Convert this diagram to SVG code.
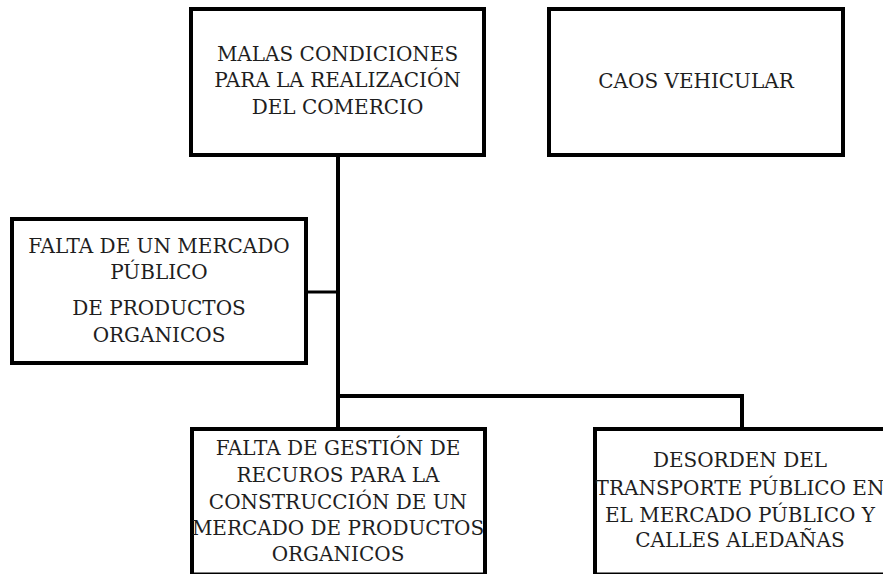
<svg xmlns="http://www.w3.org/2000/svg" width="883" height="574" viewBox="0 0 883 574">
<style>
.box{fill:#fff;stroke:#000;stroke-width:4}
.lbl{font-family:"DejaVu Serif","Liberation Serif",serif;font-size:20px;fill:#1e1e1e;text-anchor:middle}
.conn{fill:none;stroke:#000;stroke-width:4}
</style>
<rect width="883" height="574" fill="#fff"/>
<g id="connectors">
<polyline class="conn" points="338,155 338,427"/>
<polyline class="conn" points="306,292 338,292" style="stroke-width:3"/>
<polyline class="conn" points="338,396 742,396 742,427"/>
</g>
<g id="n-malas">
<rect class="box" x="191" y="9" width="293" height="146"/>
<text class="lbl" x="337.5" y="61">MALAS CONDICIONES</text>
<text class="lbl" x="337.5" y="87">PARA LA REALIZACIÓN</text>
<text class="lbl" x="337.5" y="114">DEL COMERCIO</text>
</g>
<g id="n-caos">
<rect class="box" x="549" y="9" width="294" height="146"/>
<text class="lbl" x="696" y="88">CAOS VEHICULAR</text>
</g>
<g id="n-falta-mercado">
<rect class="box" x="12" y="219" width="294" height="144"/>
<text class="lbl" x="159" y="253">FALTA DE UN MERCADO</text>
<text class="lbl" x="159" y="279">PÚBLICO</text>
<text class="lbl" x="159" y="315">DE PRODUCTOS</text>
<text class="lbl" x="159" y="342">ORGANICOS</text>
</g>
<g id="n-falta-gestion">
<rect class="box" x="192" y="429" width="293" height="145.5"/>
<text class="lbl" x="338" y="455">FALTA DE GESTIÓN DE</text>
<text class="lbl" x="338" y="482">RECUROS PARA LA</text>
<text class="lbl" x="338" y="509">CONSTRUCCIÓN DE UN</text>
<text class="lbl" x="338" y="535">MERCADO DE PRODUCTOS</text>
<text class="lbl" x="338" y="561">ORGANICOS</text>
</g>
<g id="n-desorden">
<rect class="box" x="595" y="429" width="300" height="145.5"/>
<text class="lbl" x="740" y="467">DESORDEN DEL</text>
<text class="lbl" x="740" y="495">TRANSPORTE PÚBLICO EN</text>
<text class="lbl" x="740" y="522">EL MERCADO PÚBLICO Y</text>
<text class="lbl" x="740" y="547">CALLES ALEDAÑAS</text>
</g>
</svg>
